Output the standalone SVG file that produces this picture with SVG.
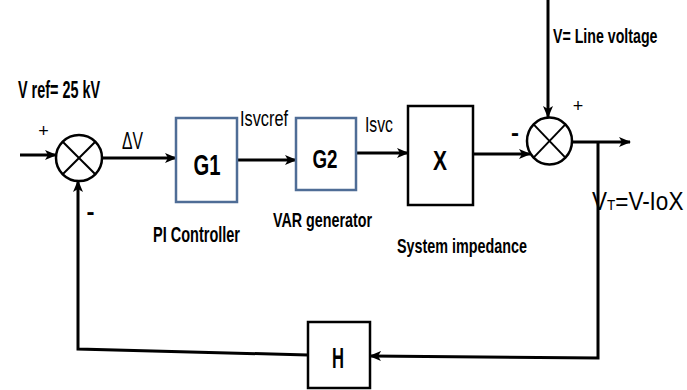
<svg xmlns="http://www.w3.org/2000/svg" width="687" height="390" viewBox="0 0 687 390">
  <defs>
    <marker id="arr" markerUnits="userSpaceOnUse" markerWidth="12" markerHeight="12" viewBox="0 0 12 12" refX="11" refY="6" orient="auto">
      <path d="M0,1 L12,6 L0,11 L3,6 Z" fill="#000"/>
    </marker>
  </defs>
  <style>
    text { font-family: "Liberation Sans", Arial, sans-serif; fill: #000; }
    .b { font-weight: bold; }
    .ln { fill: none; stroke: #000; stroke-width: 3; }
    .blk { fill: #fff; stroke: #000; stroke-width: 2.5; }
    .blu { fill: #fff; stroke: #4f6d96; stroke-width: 2.5; }
    .sum { fill: #fff; stroke: #000; stroke-width: 2.5; }
    .x { stroke: #000; stroke-width: 2; }
  </style>
  <rect width="687" height="390" fill="#fff"/>

  <g id="connectors">
    <line class="ln" x1="20" y1="155" x2="56" y2="155" stroke-width="4" marker-end="url(#arr)"/>
    <line class="ln" x1="102" y1="158" x2="176" y2="158" marker-end="url(#arr)"/>
    <line class="ln" x1="237" y1="160" x2="296" y2="160" marker-end="url(#arr)"/>
    <line class="ln" x1="356" y1="153" x2="408" y2="153" marker-end="url(#arr)"/>
    <line class="ln" x1="473" y1="154" x2="530" y2="154" marker-end="url(#arr)"/>
    <line class="ln" x1="548" y1="0" x2="548" y2="117" marker-end="url(#arr)"/>
    <line class="ln" x1="572" y1="142" x2="630" y2="142" marker-end="url(#arr)"/>
    <polyline class="ln" points="598,142 598,358 370,356" marker-end="url(#arr)"/>
    <polyline class="ln" points="308,355 78,349 78,181" marker-end="url(#arr)"/>
  </g>

  <g id="sum1">
    <circle class="sum" cx="79" cy="158" r="23"/>
    <line class="x" x1="62.7" y1="141.7" x2="95.3" y2="174.3"/>
    <line class="x" x1="95.3" y1="141.7" x2="62.7" y2="174.3"/>
  </g>
  <g id="sum2">
    <ellipse class="sum" cx="549.5" cy="141" rx="22.5" ry="23.5"/>
    <line class="x" x1="533.6" y1="124.4" x2="565.4" y2="157.6"/>
    <line class="x" x1="565.4" y1="124.4" x2="533.6" y2="157.6"/>
  </g>

  <g id="G1">
    <rect class="blu" x="176" y="118" width="61" height="84"/>
    <text class="b" x="207" y="175" font-size="29" text-anchor="middle" textLength="27" lengthAdjust="spacingAndGlyphs">G1</text>
  </g>
  <g id="G2">
    <rect class="blu" x="296" y="118" width="60" height="72"/>
    <text class="b" x="325" y="168" font-size="25" text-anchor="middle" textLength="25" lengthAdjust="spacingAndGlyphs">G2</text>
  </g>
  <g id="X">
    <rect class="blk" x="408" y="106" width="65" height="99"/>
    <text class="b" x="440" y="170" font-size="28" text-anchor="middle" textLength="14" lengthAdjust="spacingAndGlyphs">X</text>
  </g>
  <g id="H">
    <rect class="blk" x="308" y="322" width="62" height="66"/>
    <text class="b" x="338" y="368" font-size="30" text-anchor="middle" textLength="12" lengthAdjust="spacingAndGlyphs">H</text>
  </g>

  <g id="labels">
    <text class="b" x="18" y="98" font-size="23" textLength="82" lengthAdjust="spacingAndGlyphs">V ref= 25 kV</text>
    <text x="43.5" y="137" font-size="18" text-anchor="middle">+</text>
    <text x="122" y="149" font-size="23" textLength="21" lengthAdjust="spacingAndGlyphs">ΔV</text>
    <text class="b" x="90.5" y="220" font-size="24" text-anchor="middle">-</text>
    <text class="b" x="153" y="242" font-size="22" textLength="87" lengthAdjust="spacingAndGlyphs">PI Controller</text>
    <text x="240" y="126" font-size="22" textLength="48" lengthAdjust="spacingAndGlyphs">Isvcref</text>
    <text class="b" x="273" y="227" font-size="21" textLength="99" lengthAdjust="spacingAndGlyphs">VAR generator</text>
    <text x="365" y="132" font-size="22" textLength="28" lengthAdjust="spacingAndGlyphs">Isvc</text>
    <text class="b" x="397" y="253" font-size="21" textLength="130" lengthAdjust="spacingAndGlyphs">System impedance</text>
    <text class="b" transform="translate(553,43) scale(0.71,1)" font-size="20">V= Line voltage</text>
    <text x="578" y="112" font-size="18" text-anchor="middle">+</text>
    <text class="b" x="515" y="141" font-size="24" text-anchor="middle">-</text>
    <text transform="translate(592,210) scale(0.9,1)" font-size="25">V<tspan font-size="15">T</tspan>=V-IoX</text>
  </g>
</svg>
